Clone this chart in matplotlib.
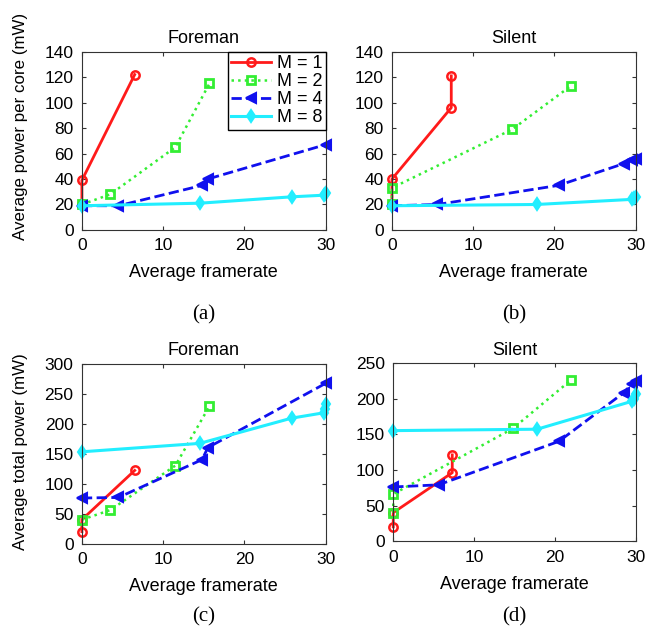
import matplotlib.pyplot as plt

# per-core power, Foreman
fa_x1 = [0, 0, 6.5]
fa_y1 = [20, 39, 122]
fa_x2 = [0, 3.5, 11.5, 15.7]
fa_y2 = [20, 28, 65, 115]
fa_x4 = [0, 4.5, 14.8, 15.5, 30]
fa_y4 = [19, 19, 35, 40, 67]
fa_x8 = [0, 14.5, 25.8, 29.8, 29.9, 30]
fa_y8 = [19, 21, 26, 27.3, 28, 29]

# per-core power, Silent
sb_x1 = [0, 0, 7.3, 7.3]
sb_y1 = [20, 40, 96, 121]
sb_x2 = [0, 0, 14.8, 22]
sb_y2 = [20, 33, 79, 113]
sb_x4 = [0, 5.6, 20.5, 28.5, 29.5, 30]
sb_y4 = [19, 20, 35, 52, 55, 56]
sb_x8 = [0, 17.8, 29.5, 29.8, 30]
sb_y8 = [19, 20, 24, 25, 26]

# total power, Foreman
fc_y1 = [20, 40, 122]
fc_y2 = [40, 56, 130, 229]
fc_y4 = [76, 77, 140, 160, 267]
fc_y8 = [153, 167, 209, 218, 225, 232]

# total power, Silent
sd_y1 = [20, 40, 96, 121]
sd_y2 = [40, 66, 158, 226]
sd_y4 = [76, 79, 140, 208, 220, 224]
sd_y8 = [155, 157, 196, 200, 207]

labels = ['M = 1', 'M = 2', 'M = 4', 'M = 8']

red = '#ff1a1a'
green = '#33ee33'
blue = '#1010ee'
cyan = '#22eeff'

plt.rcParams['font.family'] = ['Liberation Sans', 'DejaVu Sans']

fig = plt.figure(figsize=(6.5, 6.3), dpi=100)


def draw(ax, xs, ys, ymax, step, title, ylabel, ylab_y, caption, cap_y,
         legend=False):
    ax.plot(xs[0], ys[0], '-', color=red, lw=2, marker='o', ms=6,
            mfc='none', mew=1.8, label=labels[0], clip_on=False)
    ax.plot(xs[1], ys[1], ':', color=green, lw=1.8, marker='s', ms=6,
            mfc='none', mew=2, label=labels[1], clip_on=False)
    ax.plot(xs[2], ys[2], '--', color=blue, lw=2, marker='<', ms=7,
            mfc=blue, mew=1.5, label=labels[2], clip_on=False)
    ax.plot(xs[3], ys[3], '-', color=cyan, lw=2.2, marker='d', ms=6.5,
            mfc=cyan, mew=1.5, label=labels[3], clip_on=False)
    ax.set_xlim(0, 30)
    ax.set_ylim(0, ymax)
    ax.set_xticks([0, 10, 20, 30])
    ax.set_yticks(range(0, ymax + 1, step))
    ax.tick_params(direction='in', top=True, right=True, labelsize=12.5,
                   length=3, color='#333333', pad=6)
    for s in ax.spines.values():
        s.set_color('#333333')
    ax.set_title(title, fontsize=13, pad=6)
    ax.set_xlabel('Average framerate', fontsize=13, labelpad=8)
    if ylabel:
        ax.set_ylabel(ylabel, fontsize=12.2)
        ax.yaxis.set_label_coords(-0.222, ylab_y)
    pos = ax.get_position()
    fig.text((pos.x0 + pos.x1) / 2, cap_y, caption, ha='center',
             va='center', fontsize=15, family='Liberation Serif')
    if legend:
        leg = ax.legend(loc='upper right', fontsize=13, handlelength=2.2,
                        borderaxespad=0, fancybox=False, edgecolor='black',
                        framealpha=1, labelspacing=0.05, borderpad=0.2,
                        handletextpad=0.3)
        leg.get_frame().set_linewidth(1)


ax_a = fig.add_axes([0.126, 0.635, 0.375, 0.283])
draw(ax_a, [fa_x1, fa_x2, fa_x4, fa_x8], [fa_y1, fa_y2, fa_y4, fa_y8],
     140, 20, 'Foreman', 'Average power per core (mW)', 0.58,
     '(a)', 1 - 315 / 630, legend=True)

ax_b = fig.add_axes([0.603, 0.635, 0.375, 0.283])
draw(ax_b, [sb_x1, sb_x2, sb_x4, sb_x8], [sb_y1, sb_y2, sb_y4, sb_y8],
     140, 20, 'Silent', None, 0.5, '(b)', 1 - 315 / 630)

ax_c = fig.add_axes([0.126, 0.137, 0.375, 0.286])
draw(ax_c, [fa_x1, fa_x2, fa_x4, fa_x8], [fc_y1, fc_y2, fc_y4, fc_y8],
     300, 50, 'Foreman', 'Average total power (mW)', 0.51,
     '(c)', 1 - 617 / 630)

ax_d = fig.add_axes([0.605, 0.141, 0.373, 0.283])
draw(ax_d, [sb_x1, sb_x2, sb_x4, sb_x8], [sd_y1, sd_y2, sd_y4, sd_y8],
     250, 50, 'Silent', None, 0.5, '(d)', 1 - 617 / 630)

fig.savefig('out.png', dpi=100)
